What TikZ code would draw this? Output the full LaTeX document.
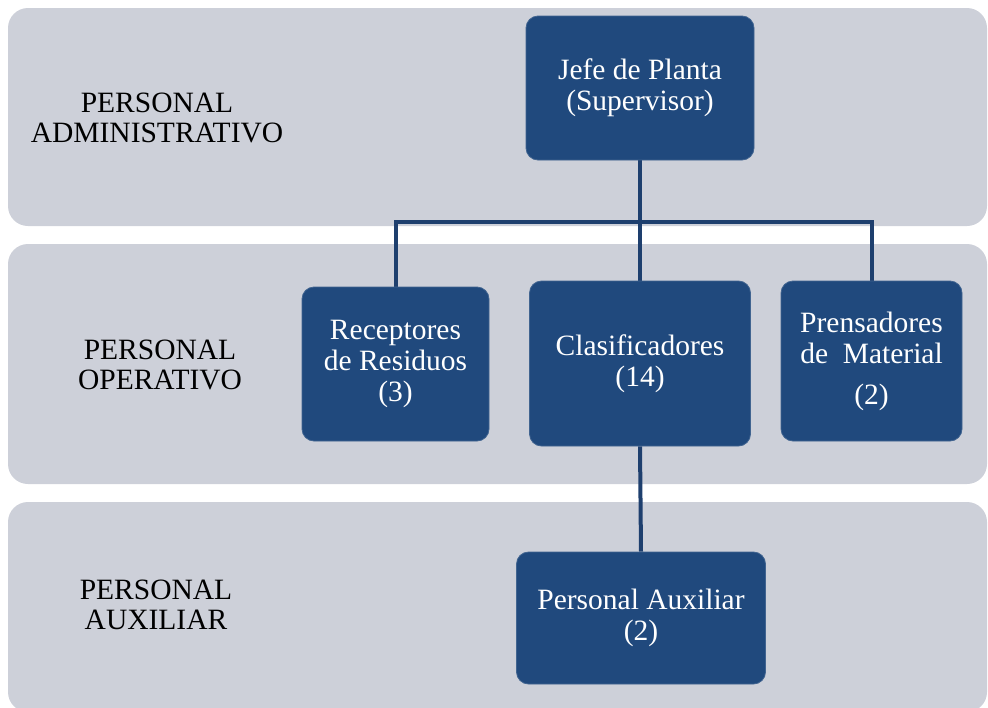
\documentclass[tikz,border=0pt]{standalone}
\usepackage{fontspec}
\setmainfont{Liberation Serif}
\usepackage{tikz}
\pgfdeclarelayer{background}
\pgfdeclarelayer{foreground}
\pgfsetlayers{background,main,foreground}

\definecolor{bandgray}{RGB}{205,208,217}
\definecolor{boxblue}{RGB}{32,73,125}
\definecolor{linkblue}{RGB}{30,63,110}

\tikzset{
  band/.style={fill=bandgray, rounded corners=20pt},
  post/.style={fill=boxblue, draw=boxblue!85!white, line width=0.8pt, rounded corners=12pt,
    text=white, align=center, inner sep=0pt, font=\fontsize{29.5}{31}\selectfont},
  level/.style={align=center, font=\fontsize{29.5}{30}\selectfont},
  link/.style={draw=linkblue, line width=4pt}
}

\begin{document}
\begin{tikzpicture}[x=1pt,y=-1pt]
\useasboundingbox (0,0) rectangle (988,707);
\begin{pgfonlayer}{background}
\fill[band] (8,8) rectangle (987,226);
\fill[band] (8,244) rectangle (987,484);
\fill[band] (8,502) rectangle (987,712);
\end{pgfonlayer}

% niveles
\node[level] (admin) at (157,118) {PERSONAL\\ADMINISTRATIVO};
\node[level] (oper) at (160,365) {PERSONAL\\OPERATIVO};
\node[level] (auxil) at (156,605) {PERSONAL\\AUXILIAR};

% puestos
\node[post, minimum width=228pt, minimum height=144pt] (jefe) at (640,88) {Jefe de Planta\\(Supervisor)};
\node[post, minimum width=187pt, minimum height=154pt] (recep) at (395.5,364) {Receptores\\de Residuos\\(3)};
\node[post, minimum width=221pt, minimum height=165pt] (clasif) at (640,363.5) {Clasificadores\\(14)};
\node[post, minimum width=181pt, minimum height=160pt] (prens) at (871.5,361) {Prensadores\\de~~Material\\[10pt](2)};
\node[post, minimum width=249pt, minimum height=132pt] (paux) at (641,618) {Personal Auxiliar\\(2)};

% lineas
\begin{pgfonlayer}{background}
\draw[link] (jefe.south) -- ++(0,62) coordinate (bus);
\draw[link] (recep.north) |- (bus) -| (prens.north);
\draw[link] (bus) -- (clasif.north);
\draw[link] (clasif.south) -- (paux.north);
\end{pgfonlayer}
\end{tikzpicture}
\end{document}
